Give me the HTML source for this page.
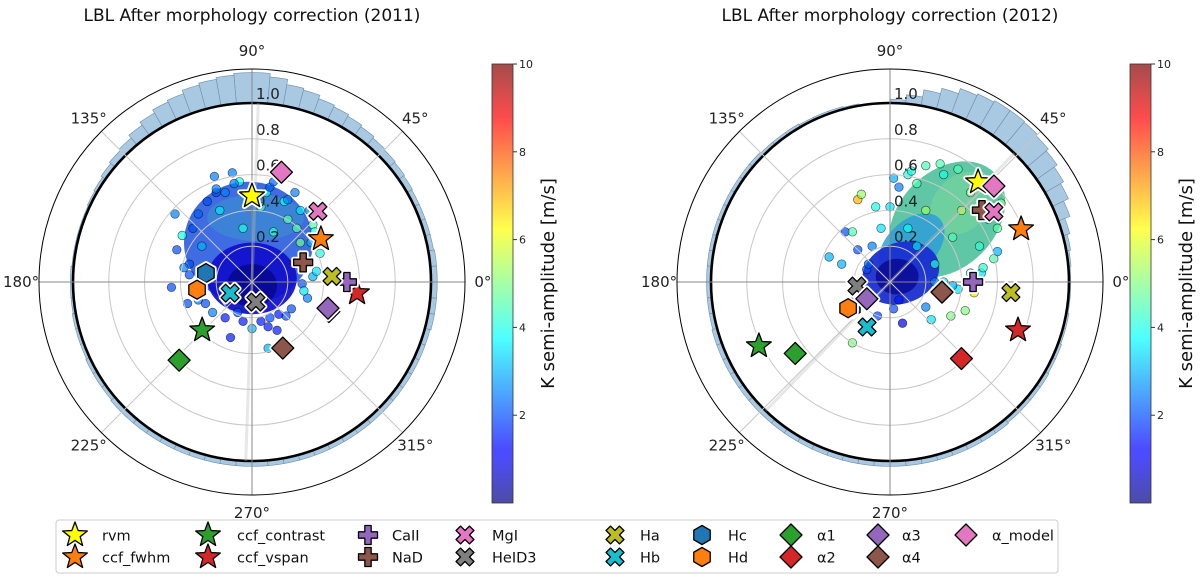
<!DOCTYPE html>
<html><head><meta charset="utf-8"><style>
html,body{margin:0;padding:0;background:#fff;}
svg{display:block;font-family:"DejaVu Sans","Liberation Sans",sans-serif;}
</style></head><body>
<svg id="fig" width="1200" height="579" viewBox="0 0 1200 579" xmlns="http://www.w3.org/2000/svg">
<defs>
<linearGradient id="jet" x1="0" y1="1" x2="0" y2="0">
<stop offset="0" stop-color="#00007f"/><stop offset="0.11" stop-color="#0000ff"/><stop offset="0.125" stop-color="#0000ff"/>
<stop offset="0.375" stop-color="#00ffff"/><stop offset="0.625" stop-color="#ffff00"/><stop offset="0.875" stop-color="#ff0000"/><stop offset="1" stop-color="#7f0000"/>
</linearGradient>
</defs>
<g id="panels"></g>
<g id="legend"></g>
</svg>
<script>
// ---------- data ----------
const markerNames = ["rvm","ccf_fwhm","ccf_contrast","ccf_vspan","CaII","NaD","MgI","HeID3","Ha","Hb","Hc","Hd","α1","α2","α3","α4","α_model"];
const markerShapes = ["star","star","star","star","plus","plus","x","x","x","x","hex","hex","dia","dia","dia","dia","dia"];
const markerColors = ["#ffff00","#ff7f0e","#2ca02c","#d62728","#9467bd","#8c564b","#e377c2","#7f7f7f","#bcbd22","#17becf","#1f77b4","#ff7f0e","#2ca02c","#d62728","#9467bd","#8c564b","#e377c2"];
const r2011 = [0.48,0.454,0.387,0.59,0.53,0.306,0.54,0.114,0.448,0.137,0.262,0.31,0.597,0.46,0.449,0.407,0.635];
const t2011 = [90,32,224,-6,0,21,47,-79,4,207,169,188,227,-21,-19,-65,75];
const r2012 = [0.744,0.79,0.815,0.764,0.464,0.652,0.70,0.186,0.678,0.282,0.257,0.276,0.663,0.585,0.16,0.296,0.79];
const t2012 = [48.6,22,206,-20.6,0,38,34,187,-5,243,214,212,217,-47,216,-11,42.7];
const hist2011 = [0.035,0.035,0.03,0.03,0.03,0.03,0.035,0.04,0.045,0.05,0.06,0.07,0.08,0.09,0.11,0.12,0.15,0.17,
 0.17,0.16,0.15,0.14,0.12,0.11,0.09,0.07,0.05,0.04,0.03,0.02,0.015,0.01,0.01,0.01,0.01,0.015,
 0.015,0.015,0.02,0.02,0.02,0.025,0.025,0.025,0.03,0.03,0.03,0.03,0.03,0.03,0.03,0.03,0.03,0.03,
 0.03,0.03,0.03,0.03,0.03,0.03,0.03,0.03,0.03,0.03,0.03,0.03,0.03,0.03,0.03,0.035,0.035,0.035];
const hist2012 = [0.01,0.015,0.025,0.04,0.07,0.1,0.12,0.14,0.155,0.165,0.17,0.17,0.16,0.15,0.12,0.09,0.05,0.02,
 0.005,0.005,0.01,0.015,0.015,0.015,0.02,0.02,0.02,0.025,0.025,0.025,0.025,0.025,0.025,0.025,0.025,0.025,
 0.025,0.025,0.025,0.03,0.03,0.03,0.03,0.03,0.03,0.03,0.03,0.03,0.03,0.03,0.03,0.03,0.03,0.03,
 0.03,0.03,0.03,0.03,0.03,0.03,0.03,0.03,0.025,0.025,0.025,0.025,0.02,0.02,0.015,0.015,0.01,0.01];
const ptsX2011 = [-0.43,-0.45,-0.42,-0.39,-0.36,-0.21,-0.11,0,-0.12,0.09,0.14,0.19,0.31,0.34,0.32,0.24,0.38,0.34,0.28,0.09,-0.07,-0.35,-0.34,-0.22,-0.08,0.05,0.2,0.27,0.3,-0.05,0.12,-0.18,0.18,-0.28,0.25,0.08,-0.3,0.29,-0.15,0.1,
 -0.25,-0.3,-0.2,-0.1,0.0,0.1,0.2,0.27,-0.33,-0.35,-0.3,0.33,0.3,-0.26,0.15,-0.15,0.05,-0.05,0.22,-0.38,0.36,0.35,-0.2,0.12];
const ptsY2011 = [0.38,-0.03,0.18,0.26,-0.12,0.59,0.61,-0.26,-0.31,-0.25,-0.27,-0.19,-0.09,0.32,0.4,0.5,0.16,0.03,-0.01,-0.37,0.56,0.04,-0.06,-0.17,-0.17,0.42,0.35,0.22,0.1,0.3,0.28,0.4,0.45,0.2,0.3,0.5,-0.1,-0.05,0.5,-0.2,
 0.45,0.38,0.5,0.55,0.52,0.53,0.46,0.4,0.3,0.1,-0.05,0.22,0.12,-0.12,-0.18,-0.2,-0.22,-0.22,-0.15,0.08,0.06,0.28,0.52,0.56];
const ptsK2011 = [2.5,2,2,4,2,2.5,2.5,3,1.5,1.5,1.5,2,2.5,4.5,2.5,2.5,4,3,2,3,4,2,4,2.5,2,4.5,4.5,4.8,4.5,4,4.2,3.5,3.8,3,4.5,4,2.5,3.5,2.5,2,
 2,2.2,2,2.5,3,2.2,2.5,3.5,2,2,1.8,3,2.5,2,1.5,1.5,1.5,1.5,2,2.5,3.5,4,2.5,2.2];
const ptsX2012 = [-0.18,-0.16,-0.34,-0.27,-0.25,-0.21,-0.18,-0.21,0.07,0.23,0.34,0.42,0.38,0.47,0.6,0.58,0.51,0.62,0.02,0.05,-0.08,0.02,0.2,-0.07,-0.13,0.15,0.3,0.45,0.55,0.2,0.35,0.5,0.1,0.25,0.4,0.1,0.6,0.45,0.3,0.15,
 0.2,0.28,0.38,0.5,0.58,0.12,0.0,-0.05,0.52,0.45,0.35,0.25,0.05,-0.1,-0.12];
const ptsY2012 = [0.46,0.49,0.14,0.1,0.28,0.28,0.18,-0.34,-0.23,-0.21,-0.19,-0.16,-0.04,-0.06,0.17,0.13,0.05,0.44,0.58,0.53,0.42,-0.15,-0.14,-0.19,0.07,0.55,0.6,0.5,0.35,0.4,0.25,0.2,0.3,0.1,0.4,0.6,0.3,0.05,0.0,0.2,
 0.65,0.66,0.63,0.55,0.4,0.62,0.42,0.3,0.08,0.0,-0.02,0.0,-0.1,0.2,0.1];
const ptsK2012 = [7,5.2,3,3,2,4.5,2,5,1,3.5,5,5,3.5,6.5,3,4.5,3.5,5,3,2.5,4,2,2.5,2,2,4.5,4,5,4.8,5.2,4.5,4.2,3.8,4,5.5,4,4.6,4,3.5,3.5,
 4.5,4.5,4.5,4.8,4.5,4,3.5,3.5,4.2,4,3,2.5,1.5,2.5,2.2];
const angleTicks = [0,45,90,135,180,225,270,315];
const radialTicks = [0.2,0.4,0.6,0.8,1.0];
const cbTicks = [2,4,6,8,10];

// ---------- helpers ----------
const NS = "http://www.w3.org/2000/svg";
function el(tag, attrs, parent){ const e=document.createElementNS(NS,tag); for(const k in attrs) e.setAttribute(k,attrs[k]); if(parent) parent.appendChild(e); return e; }
function jet(v){ v=Math.max(0,Math.min(1,v));
  const f=x=>Math.max(0,Math.min(1,x));
  const r=f(1.5-Math.abs(4*v-3)), g=f(1.5-Math.abs(4*v-2)), b=f(1.5-Math.abs(4*v-1));
  return `rgb(${Math.round(r*255)},${Math.round(g*255)},${Math.round(b*255)})`; }
const SCALE = 179, RMAX = 1.19;
function shapePath(shape, s){
  let pts=[];
  if(shape==="star"){ for(let i=0;i<10;i++){ const a=-Math.PI/2+i*Math.PI/5; const rr=i%2?s*0.42:s; pts.push([rr*Math.cos(a),rr*Math.sin(a)]);} }
  else if(shape==="dia"){ pts=[[0,-s],[s,0],[0,s],[-s,0]]; }
  else if(shape==="hex"){ for(let i=0;i<6;i++){ const a=-Math.PI/2+i*Math.PI/3; pts.push([s*Math.cos(a),s*Math.sin(a)]);} }
  else { const w=s/3; const base=[[-w,-s],[w,-s],[w,-w],[s,-w],[s,w],[w,w],[w,s],[-w,s],[-w,w],[-s,w],[-s,-w],[-w,-w]];
    const rot=shape==="x"?Math.PI/4:0; pts=base.map(([x,y])=>[x*Math.cos(rot)-y*Math.sin(rot),x*Math.sin(rot)+y*Math.cos(rot)]); }
  return "M"+pts.map(p=>p[0].toFixed(2)+","+p[1].toFixed(2)).join("L")+"Z";
}
const shapeSize = {star:13,dia:11,hex:9.5,x:9.5,plus:9.5};
function drawMarker(g, shape, color, x, y, halo){
  const d=shapePath(shape, shapeSize[shape]);
  if(halo) el("path",{d,transform:`translate(${x},${y})`,fill:"none",stroke:"#fff","stroke-width":5,"stroke-linejoin":"round"},g);
  return el("path",{d,transform:`translate(${x},${y})`,fill:color,stroke:"#000","stroke-width":1.3,"stroke-linejoin":"round"},g);
}

function panel(cx, cy, title, rs, ts, hist, px, py, pk, blobs, diag, cbx){
  const root=document.getElementById("panels");
  const g=el("g",{},root);
  
  
  const P=(r,t)=>[cx+r*SCALE*Math.cos(t*Math.PI/180), cy-r*SCALE*Math.sin(t*Math.PI/180)];
  const X=x=>cx+x*SCALE, Y=y=>cy-y*SCALE;
  const tt=el("text",{x:cx,y:21,"text-anchor":"middle","font-size":17,fill:"#111"},g); tt.textContent=title;
   
  const hg=el("g",{},g);  
  hist.forEach((h,i)=>{ const a0=i*5, a1=a0+5, r0=1, r1=1+h;
    const p0=P(r0,a0),p1=P(r1,a0),p2=P(r1,a1),p3=P(r0,a1);
    const d=`M${p0}L${p1}A${r1*SCALE},${r1*SCALE} 0 0 0 ${p2}L${p3}A${SCALE},${SCALE} 0 0 1 ${p0}Z`;
    const b=el("path",{d,fill:"#a9c9e3",stroke:"#6f8ea8","stroke-width":0.6},hg);
      });
  blobs.forEach(bl=>{ const e=el("ellipse",{cx:X(bl[0]),cy:Y(bl[1]),rx:bl[2]*SCALE,ry:bl[3]*SCALE,fill:bl[5],opacity:bl[6],transform:`rotate(${-bl[4]} ${X(bl[0])} ${Y(bl[1])})`},g);
      });
  px.forEach((x,i)=>{ const c=el("circle",{cx:X(x),cy:Y(py[i]),r:4.3,fill:jet(pk[i]/10),"fill-opacity":0.7,stroke:"#000","stroke-opacity":0.6,"stroke-width":0.7},g);
      });
  radialTicks.forEach(r=>{ el("circle",{cx,cy,r:r*SCALE,fill:"none",stroke:r===1?"#000":"#c8c8c8","stroke-width":r===1?2.6:1},g);
    const lt=el("text",{x:cx+4,y:Y(r)-4,"font-size":15,fill:"#222"},g); lt.textContent=r.toFixed(1);
      });
  angleTicks.forEach(a=>{ const [x2,y2]=P(RMAX,a);
    el("line",{x1:cx,y1:cy,x2,y2,stroke:a%90===0?"#888":"#c8c8c8","stroke-width":1},g);
    const [lx,ly]=P(1.29,a);
    const lt=el("text",{x:lx,y:ly+5,"text-anchor":"middle","font-size":15,fill:"#222"},g); lt.textContent=a+"°";
      });
  const [d1x,d1y]=P(1.0,diag),[d2x,d2y]=P(1.0,diag+180);
  el("line",{x1:d1x,y1:d1y,x2:d2x,y2:d2y,stroke:"#bbb","stroke-opacity":0.35,"stroke-width":3},g);
  el("circle",{cx,cy,r:RMAX*SCALE,fill:"none",stroke:"#000","stroke-width":1},g);
  rs.forEach((r,i)=>{ const [x,y]=P(r,ts[i]); const m=drawMarker(g,markerShapes[i],markerColors[i],x,y,true);
      });
  const cb=el("g",{},g);  
  const y0=503, y1=64, cy2=v=>y0-(y0-y1)*v/10;
  el("rect",{x:cbx,y:y1,width:21,height:y0-y1,fill:"url(#jet)",opacity:0.7},cb);
  el("rect",{x:cbx,y:y1,width:21,height:y0-y1,fill:"none",stroke:"#333","stroke-width":0.8},cb);
  cbTicks.forEach(v=>{ el("line",{x1:cbx+21,x2:cbx+25,y1:cy2(v),y2:cy2(v),stroke:"#333"},cb);
    const t=el("text",{x:cbx+27,y:cy2(v)+4,"font-size":11,fill:"#222"},cb); t.textContent=v;
      });
  const cl=el("text",{x:0,y:0,"font-size":18,fill:"#111","text-anchor":"middle",transform:`translate(${cbx+62},${(y0+y1)/2}) rotate(-90)`},cb);
  cl.textContent="K semi-amplitude [m/s]";  
}

const blobs2011 = [[-0.02,0.22,0.36,0.34,0,"#2f5fe0",0.92],[0.02,0.36,0.27,0.13,0,"#3a98d0",0.55],[0.0,0.02,0.25,0.2,0,"#1212cc",0.95],[0.0,-0.02,0.14,0.12,0,"#06068a",0.8]];
const blobs2012 = [[0.32,0.35,0.37,0.27,45,"#56c4a0",0.95],[0.4,0.44,0.2,0.15,45,"#7ad69a",0.55],[0.12,0.2,0.22,0.14,45,"#2f9ed8",0.85],[0.06,0.05,0.22,0.17,20,"#1a2fd0",0.95],[0.04,0.03,0.12,0.1,0,"#080890",0.8]];
panel(252,282,"LBL After morphology correction (2011)",r2011,t2011,hist2011,ptsX2011,ptsY2011,ptsK2011,blobs2011,88,492);
panel(890,282,"LBL After morphology correction (2012)",r2012,t2012,hist2012,ptsX2012,ptsY2012,ptsK2012,blobs2012,46,1130);

const lg=document.getElementById("legend");
el("rect",{x:56,y:520,width:1002,height:53,rx:3,fill:"#fff",stroke:"#ccc","stroke-width":1},lg);
const colMX=[75,208,368,465,615,702,791,878,966];
const colTX=[102,237,392,492,640,728,817,902,992];
markerNames.forEach((n,i)=>{ const col=Math.floor(i/2), row=i%2;
  const y=row?557:535;
  const m=drawMarker(lg,markerShapes[i],markerColors[i],colMX[col],y,false);
   
  const t=el("text",{x:colTX[col],y:y+5.5,"font-size":14.5,fill:"#111"},lg);
  t.textContent=n;   });
</script>
</body></html>
